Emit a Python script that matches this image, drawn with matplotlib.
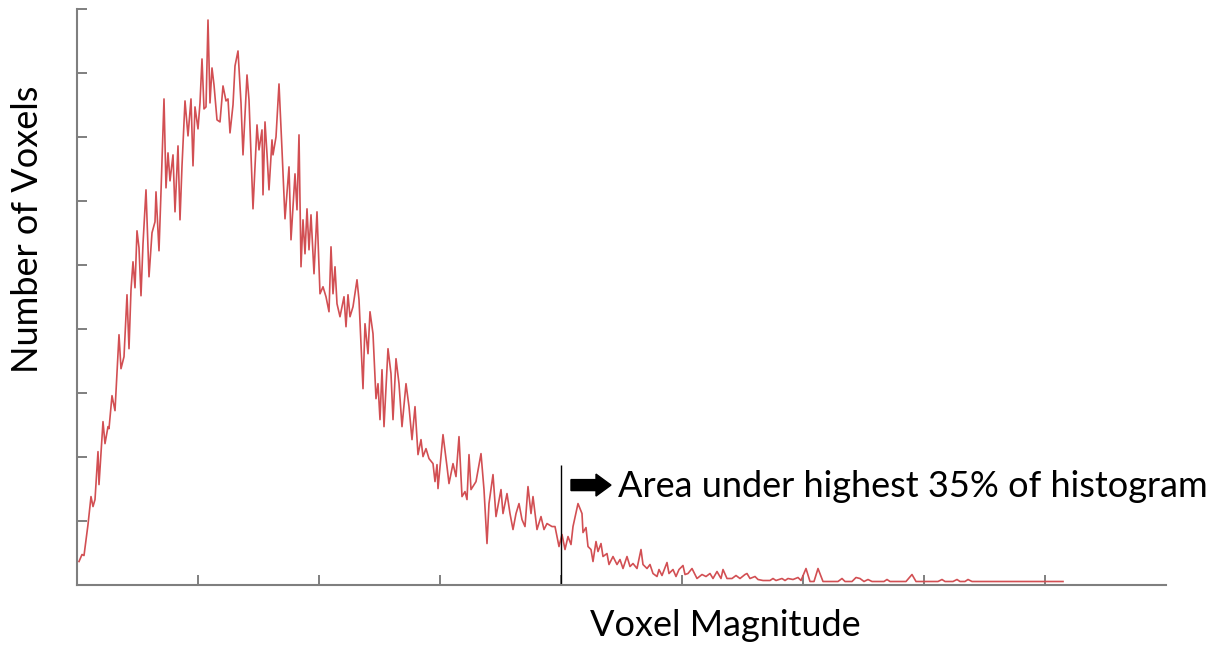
import matplotlib
matplotlib.use("Agg")
import matplotlib.pyplot as plt

# =========================================
# Histogram (bin index, voxel count)
# =========================================
bins = [
    2, 5, 7, 11, 14, 16, 18, 21, 22, 26, 28, 31, 32, 35, 38, 42, 44, 47, 50, 52,
    54, 56, 58, 60, 62, 64, 66, 69, 72, 75, 78, 79, 82, 84, 87, 89, 91, 93, 96, 98,
    101, 103, 105, 108, 111, 114, 116, 118, 121, 123, 125, 127, 129, 131, 133, 135, 137, 140, 143, 146,
    149, 151, 153, 156, 158, 161, 164, 166, 170, 172, 176, 180, 182, 185, 186, 188, 190, 192, 195, 196,
    199, 202, 205, 208, 212, 214, 218, 220, 222, 224, 226, 228, 230, 232, 234, 237, 240, 243, 246, 249,
    252, 254, 256, 258, 260, 263, 267, 269, 271, 273, 276, 280, 282, 286, 288, 291, 293, 296, 299, 301,
    303, 305, 307, 311, 314, 316, 319, 322, 325, 329, 332, 335, 338, 341, 344, 346, 349, 352, 356, 358,
    360, 361, 366, 370, 372, 376, 379, 382, 385, 388, 390, 392, 394, 399, 404, 407, 410, 412, 416, 419,
    424, 426, 430, 433, 436, 439, 442, 445, 448, 451, 454, 456, 460, 464, 467, 470, 475, 478, 482, 485,
    488, 491, 494, 496, 501, 505, 506, 509, 511, 514, 516, 519, 521, 524, 526, 530, 532, 536, 540, 543,
    546, 550, 553, 556, 560, 564, 566, 570, 573, 576, 580, 582, 585, 590, 592, 596, 599, 602, 606, 608,
    611, 615, 620, 625, 629, 633, 636, 640, 644, 646, 650, 655, 659, 663, 668, 670, 673, 678, 681, 686,
    693, 696, 699, 705, 708, 711, 716, 721, 724, 729, 733, 737, 741, 746, 761, 765, 768, 775, 779, 783,
    787, 791, 795, 807, 810, 813, 829, 835, 839, 861, 865, 868, 876, 880, 883, 888, 891, 895, 986,
]
counts = [
    23, 30, 29, 60, 88, 78, 85, 133, 100, 163, 141, 158, 156, 189, 174, 250, 216, 228, 290, 236,
    295, 323, 297, 354, 337, 289, 341, 395, 308, 352, 363, 393, 334, 393, 486, 397, 432, 404, 430, 373,
    439, 365, 419, 484, 449, 486, 419, 478, 456, 482, 526, 476, 478, 565, 482, 517, 500, 465, 463, 499,
    484, 486, 452, 480, 519, 534, 482, 430, 510, 485, 376, 460, 435, 455, 390, 463, 431, 395, 445, 430,
    448, 501, 435, 366, 418, 345, 411, 375, 450, 318, 365, 331, 376, 335, 370, 311, 373, 291, 298, 288,
    273, 338, 291, 318, 281, 268, 288, 258, 290, 268, 278, 305, 285, 196, 261, 231, 273, 251, 186, 201,
    165, 215, 158, 236, 211, 165, 226, 201, 158, 201, 178, 145, 178, 130, 145, 128, 136, 126, 121, 103,
    120, 96, 150, 118, 101, 121, 108, 148, 88, 93, 85, 130, 95, 103, 131, 95, 41, 81, 110, 68,
    95, 71, 91, 71, 55, 71, 81, 65, 58, 98, 71, 88, 55, 68, 55, 61, 58, 58, 38, 50,
    35, 48, 40, 58, 81, 71, 52, 57, 38, 35, 23, 43, 33, 41, 28, 31, 20, 28, 20, 25,
    16, 28, 18, 21, 16, 35, 20, 16, 20, 11, 8, 15, 9, 22, 11, 15, 8, 15, 19, 10,
    11, 16, 6, 10, 8, 11, 6, 13, 6, 15, 6, 6, 9, 6, 10, 11, 6, 8, 5, 4,
    4, 6, 4, 6, 4, 6, 5, 7, 4, 16, 3, 3, 16, 3, 3, 6, 3, 3, 7, 6,
    3, 5, 3, 3, 5, 3, 3, 10, 3, 3, 5, 3, 3, 5, 3, 3, 5, 3, 3,
]

THRESHOLD_BIN = 484     # start of the highest 35 %
THRESHOLD_TOP = 120
BIN_STEP = 121          # spacing of the x tick marks
COUNT_STEP = 64         # spacing of the y tick marks
FONT = "Lato"
SPINE_GREY = "#7f7f7f"

fig = plt.figure(figsize=(12.25, 6.46), dpi=100)
ax = fig.add_axes([77 / 1225, 61.5 / 646, 1089 / 1225, 575.5 / 646])

ax.plot(bins, counts, color="#d24f53", lw=1.2, solid_joinstyle="round")
ax.vlines(THRESHOLD_BIN, 0, THRESHOLD_TOP, color="black", lw=1.0)

ax.set_xlim(0, 9 * BIN_STEP)
ax.set_ylim(0, 9 * COUNT_STEP)
ax.set_xticks([BIN_STEP * k for k in range(1, 9)])
ax.set_yticks([COUNT_STEP * k for k in range(1, 10)])
ax.set_xticklabels([])
ax.set_yticklabels([])
ax.tick_params(direction="in", length=7.5, width=1.4, color=SPINE_GREY)

for side in ("top", "right"):
    ax.spines[side].set_visible(False)
for side in ("left", "bottom"):
    ax.spines[side].set_color(SPINE_GREY)
    ax.spines[side].set_linewidth(1.5)

# arrow + note
ax.arrow(494, 99.5, 40, 0, width=11, head_width=22, head_length=15,
         length_includes_head=True, color="black", clip_on=False)
ax.text(541, 88, "Area under highest 35% of histogram", fontsize=26,
        family=FONT, va="baseline", ha="left", clip_on=False)

# axis titles
ax.text(648, -51.5, "Voxel Magnitude", fontsize=26, family=FONT,
        ha="center", va="baseline", clip_on=False)
ax.text(-49, 355, "Number of Voxels", fontsize=26, family=FONT, rotation=90,
        ha="center", va="center", clip_on=False)

fig.savefig("out.png", dpi=100)
